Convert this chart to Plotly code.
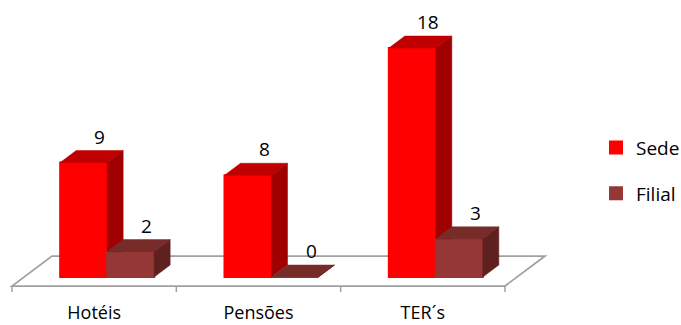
import plotly.graph_objects as go

# ---------------- data ----------------
categories = ["Hotéis", "Pensões", "TER´s"]
series_names = ["Sede", "Filial"]
sede = [9, 8, 18]
filial = [2, 0, 3]

# ---------------- styles ----------------
front_colors = ["#FF0000", "#953735"]
top_colors = ["#C00000", "#772C2A"]
side_colors = ["#A00000", "#5E2120"]
floor_color = "#A0A0A0"
FONT = "Open Sans"

# ---------------- geometry (pixels -> data units) ----------------
W, H = 681, 325
ML, MR, MT, MB = 0, 121, 0, 33
plot_w = W - ML - MR
plot_h = H - MT - MB
PX_PER_CAT = 164.33     # horizontal pixels per category
PX_PER_UNIT = 12.72     # vertical pixels per value unit
kx = 1.0 / PX_PER_CAT
ky = 1.0 / PX_PER_UNIT
x0 = -12 * kx
x1 = x0 + plot_w * kx
y1 = 277 * ky
y0 = y1 - plot_h * ky

BAR_W = 47 * kx
PAIR_SHIFT = 13 * kx           # bars sit in the middle of the floor depth
DX, DY = 16 * kx, 12 * ky      # bar depth
FDX, FDY = 40 * kx, 30 * ky    # floor depth
FLOOR_Y = -9 * ky              # floor front edge
n = len(categories)

fig = go.Figure()

# front faces (bars)
series = [sede, filial]
lefts = []
for s, vals in enumerate(series):
    xs = []
    for i in range(n):
        c = i + 0.5 + PAIR_SHIFT
        xs.append(c - BAR_W / 2 if s == 0 else c + BAR_W / 2)
    lefts.append([x - BAR_W / 2 for x in xs])
    fig.add_trace(go.Bar(
        x=xs, y=vals, width=BAR_W, name=series_names[s],
        marker=dict(color=front_colors[s], line=dict(color=front_colors[s], width=2)),
        legendgroup=series_names[s], hoverinfo="skip",
    ))


def poly(pts, color):
    xs = [p[0] for p in pts] + [pts[0][0]]
    ys = [p[1] for p in pts] + [pts[0][1]]
    fig.add_trace(go.Scatter(
        x=xs, y=ys, mode="lines", fill="toself", fillcolor=color,
        line=dict(color=color, width=0.5), showlegend=False, hoverinfo="skip",
    ))


for i in range(n):
    hs, hf = sede[i], filial[i]
    # sede top & side (side clipped by filial front face)
    xl = lefts[0][i]
    poly([(xl, hs), (xl + BAR_W, hs), (xl + BAR_W + DX, hs + DY), (xl + DX, hs + DY)], top_colors[0])
    R = xl + BAR_W
    hc = min(hf, hs)
    frac = min(1.0, hc / DY) if DY else 1.0
    poly([(R, hs), (R + DX, hs + DY), (R + DX, max(DY, hc)), (R + DX * frac, hc), (R, hc)], side_colors[0])
    # filial top & side
    xl = lefts[1][i]
    poly([(xl, hf), (xl + BAR_W, hf), (xl + BAR_W + DX, hf + DY), (xl + DX, hf + DY)], top_colors[1])
    R = xl + BAR_W
    poly([(R, hf), (R + DX, hf + DY), (R + DX, DY), (R, 0)], side_colors[1])

# value labels
for s, vals in enumerate(series):
    for i, v in enumerate(vals):
        fig.add_annotation(
            x=lefts[s][i] + BAR_W / 2 + DX, y=v + DY + 14 * ky,
            text=str(v), showarrow=False, yanchor="middle", xanchor="center",
            font=dict(family=FONT, size=19, color="#000000"),
        )

# floor
fx0, fx1 = 0, n
floor_path = (f"M {fx0},{FLOOR_Y} L {fx1},{FLOOR_Y} L {fx1 + FDX},{FLOOR_Y + FDY} "
              f"L {fx0 + FDX},{FLOOR_Y + FDY} Z")
shapes = [dict(type="path", path=floor_path, xref="x", yref="y", layer="below",
               fillcolor="#FFFFFF", line=dict(color=floor_color, width=1.75))]
for b in range(n + 1):
    shapes.append(dict(type="line", xref="x", yref="y", layer="below",
                       x0=b, x1=b, y0=FLOOR_Y, y1=FLOOR_Y - 6.5 * ky,
                       line=dict(color=floor_color, width=1.5)))

fig.update_layout(
    width=W, height=H,
    margin=dict(l=ML, r=MR, t=MT, b=MB, autoexpand=False),
    paper_bgcolor="#FFFFFF", plot_bgcolor="#FFFFFF",
    barmode="overlay",
    shapes=shapes,
    showlegend=True,
    legend=dict(
        x=596 / plot_w, y=(plot_h - 170.6) / plot_h, xanchor="left", yanchor="middle",
        font=dict(family=FONT, size=19, color="#000000"),
        traceorder="grouped", tracegroupgap=18,
        bgcolor="rgba(0,0,0,0)",
    ),
    xaxis=dict(range=[x0, x1], showgrid=False, zeroline=False, showline=False,
               ticks="", tickmode="array", automargin=False,
               tickvals=[i + 0.5 for i in range(n)], ticktext=categories,
               tickfont=dict(family=FONT, size=18, color="#000000"),
               ticklabelstandoff=8, fixedrange=True),
    yaxis=dict(range=[y0, y1], visible=False, fixedrange=True, automargin=False),
)

fig.write_html("out.html")
